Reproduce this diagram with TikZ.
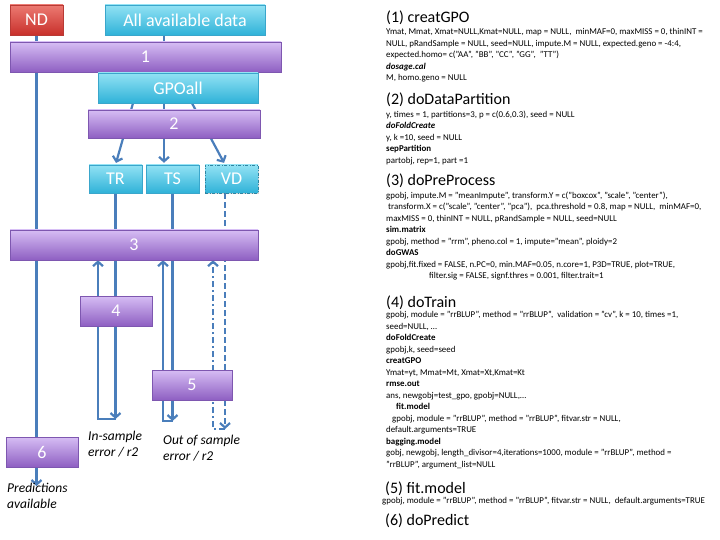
\documentclass[tikz,border=0pt]{standalone}
\usepackage{fontspec}
\setmainfont{Carlito}
\usetikzlibrary{arrows.meta,shadows,backgrounds}

\definecolor{flowblue}{HTML}{4A7EBB}
\definecolor{purpletop}{HTML}{D6BDF4}
\definecolor{purplebot}{HTML}{8E5FC2}
\definecolor{purpleedge}{HTML}{7E57B0}
\definecolor{cyantop}{HTML}{92E2F4}
\definecolor{cyanbot}{HTML}{2FB2D8}
\definecolor{cyanedge}{HTML}{3AA6CB}
\definecolor{redtop}{HTML}{EC7A72}
\definecolor{redbot}{HTML}{C8302B}
\definecolor{rededge}{HTML}{B83A35}

\begin{document}
\begin{tikzpicture}[x=1pt,y=-1pt]
\tikzset{
  boxbase/.style={line width=0.4pt, text=white, inner sep=0pt, minimum height=30pt,
    font=\fontsize{18}{21}\selectfont,
    drop shadow={shadow xshift=1.2pt, shadow yshift=-1.2pt, opacity=0.35}},
  stepbar/.style={boxbase, draw=purpleedge, top color=purpletop, bottom color=purplebot},
  databox/.style={boxbase, draw=cyanedge, top color=cyantop, bottom color=cyanbot},
  ndbox/.style={boxbase, draw=rededge, top color=redtop, bottom color=redbot},
  flow/.style={draw=flowblue, line width=2.2pt},
  arr/.style={flow, -{Straight Barb[length=4.5pt,width=10pt]}},
  head/.style={anchor=base west, inner sep=0pt, font=\fontsize{16}{18}\selectfont},
  code/.style={anchor=north west, align=left, inner sep=0pt, font=\fontsize{8.9}{11.5}\selectfont},
  note/.style={anchor=north west, align=left, inner sep=0pt, font=\fontsize{13.5}{16}\selectfont\itshape}
}
\useasboundingbox (0,0) rectangle (720,540);

% boxes of the work flow
\node[ndbox, minimum width=53pt] (ND) at (36.5,20) {ND};
\node[databox, minimum width=160pt] (AD) at (185,20) {All available data};
\node[stepbar, minimum width=271pt] (B1) at (145.5,57) {1};
\node[databox, minimum width=160pt] (GPO) at (178,88) {GPOall};
\node[stepbar, minimum width=172pt, minimum height=28pt] (B2) at (174,124) {2};
\node[databox, minimum width=53pt, minimum height=28pt] (TR) at (115.5,179) {TR};
\node[databox, minimum width=53pt, minimum height=28pt] (TS) at (172.5,179) {TS};
\node[databox, minimum width=53pt, minimum height=28pt, draw=cyanedge!80!black, dash pattern=on 3pt off 1.5pt on 1pt off 1.5pt, line width=0.8pt] (VD) at (231.5,179) {VD};
\node[stepbar, minimum width=248pt] (B3) at (134,245) {3};
\node[stepbar, minimum width=72pt] (B4) at (116,311) {4};
\node[stepbar, minimum width=80pt] (B5) at (192,385) {5};
\node[stepbar, minimum width=72pt] (B6) at (42,452) {6};

\node[note] (E4) at (88,431) {In-sample\\error / r2};
\node[note] (E5) at (163,435) {Out of sample\\error / r2};
\node[note] (PA) at (7,483) {Predictions\\available};

\coordinate (P6) at (36.5,486);
\coordinate (L4) at (115.5,419);
\coordinate (L5) at (172.5,421);
\coordinate (L6) at (225,429);

% connectors, behind the boxes
\begin{scope}[on background layer]
\draw[flow] (ND.south) -- (ND.south |- B6.north);
\draw[arr] (ND.south |- B6.south) -- (P6);
\draw[flow] ([xshift=-21pt]AD.south) -- ([xshift=-21pt]AD.south |- GPO.north);
\draw[arr, shorten >=2pt] ([xshift=-45pt]GPO.south) -- (TR.north);
\draw[arr, shorten >=2pt] ([xshift=-14pt]GPO.south) -- ([xshift=-8.5pt]TS.north);
\draw[arr, shorten >=2pt] ([xshift=14pt]GPO.south) -- ([xshift=-6.5pt]VD.north);
\draw[arr] (TR.south) -- (L4);
\draw[arr] (L4) -| ([xshift=-36pt]B3.south);
\draw[arr] (TS.south) -- (L5);
\draw[arr] (L5) -| ([xshift=29pt]B3.south);
\draw[arr, dash pattern=on 6pt off 3pt] ([xshift=-6.5pt]VD.south) -- (L6);
\draw[arr, dash pattern=on 6pt off 3pt on 2pt off 3pt] (L6) -| ([xshift=79pt]B3.south);
\end{scope}

% function list
\node[head] (H1) at (386,23) {(1) creatGPO};
\node[code] (C1) at (386,28.5) {Ymat, Mmat, Xmat=NULL,Kmat=NULL, map = NULL,\ \ minMAF=0, maxMISS = 0, thinINT =\\
NULL, pRandSample = NULL, seed=NULL, impute.M = NULL, expected.geno = -4:4,\\
expected.homo= c("AA", "BB", "CC", "GG",\ \ "TT")\\
\textbf{\textit{dosage.cal}}\\
M, homo.geno = NULL};

\node[head] (H2) at (386,105) {(2) doDataPartition};
\node[code] (C2) at (386,110.5) {y, times = 1, partitions=3, p = c(0.6,0.3), seed = NULL\\
\textbf{\textit{doFoldCreate}}\\
y, k =10, seed = NULL\\
\textbf{sepPartition}\\
partobj, rep=1, part =1};

\node[head] (H3) at (386,186) {(3) doPreProcess};
\node[code] (C3) at (386,191.5) {gpobj, impute.M = "meanImpute", transform.Y = c("boxcox", "scale", "center"),\\
\hspace*{2pt}transform.X = c("scale", "center", "pca"),\ \ pca.threshold = 0.8, map = NULL,\ \ minMAF=0,\\
maxMISS = 0, thinINT = NULL, pRandSample = NULL, seed=NULL\\
\textbf{sim.matrix}\\
gpobj, method = "rrm", pheno.col = 1, impute="mean", ploidy=2\\
\textbf{doGWAS}\\
gpobj,fit.fixed = FALSE, n.PC=0, min.MAF=0.05, n.core=1, P3D=TRUE, plot=TRUE,\\
\hspace*{43pt}filter.sig = FALSE, signf.thres = 0.001, filter.trait=1};

\node[head] (H4) at (386,307) {(4) doTrain};
\node[code] (C4) at (386,311.5) {gpobj, module = "rrBLUP", method = "rrBLUP",\ \ validation = "cv", k = 10, times =1,\\
seed=NULL, \ldots\\
\textbf{doFoldCreate}\\
gpobj,k, seed=seed\\
\textbf{creatGPO}\\
Ymat=yt, Mmat=Mt, Xmat=Xt,Kmat=Kt\\
\textbf{rmse.out}\\
ans, newgobj=test\_gpo, gpobj=NULL,\ldots\\
\hspace*{10pt}\textbf{fit.model}\\
\hspace*{6pt}gpobj, module = "rrBLUP", method = "rrBLUP", fitvar.str = NULL,\\
default.arguments=TRUE\\
\textbf{bagging.model}\\
gobj, newgobj, length\_divisor=4,iterations=1000, module = "rrBLUP", method =\\
"rrBLUP", argument\_list=NULL};

\node[head] (H5) at (385,493) {(5) fit.model};
\node[code] (C5) at (382,497.5) {gpobj, module = "rrBLUP", method = "rrBLUP", fitvar.str = NULL,\ \ default.arguments=TRUE};

\node[head] (H6) at (385,525) {(6) doPredict};
\end{tikzpicture}
\end{document}
